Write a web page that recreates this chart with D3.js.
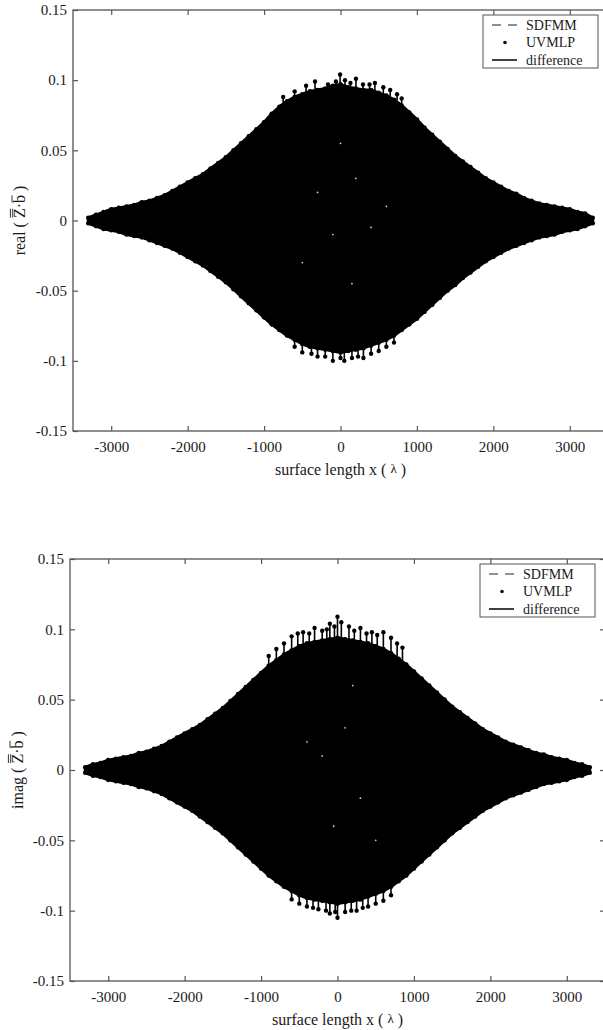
<!DOCTYPE html>
<meta charset="utf-8" />
<script src="https://cdn.jsdelivr.net/npm/d3@7"></script>
<style>
  body { margin: 0; background: #fff; }
  svg text { font-family: "Liberation Serif", "Times New Roman", serif; fill: #1a1a1a; }
</style>
<div id="chart"></div>
<script>
  // sample positions along the surface (lambda)
  const xPos = [-3300, -3200, -3100, -3000, -2900, -2800, -2700, -2600, -2500, -2400, -2300,
    -2200, -2100, -2000, -1900, -1800, -1700, -1600, -1500, -1400, -1300, -1200, -1100,
    -1000, -900, -800, -700, -600, -500, -400, -300, -200, -100, 0, 100, 200, 300, 400,
    500, 600, 700, 800, 900, 1000, 1100, 1200, 1300, 1400, 1500, 1600, 1700, 1800, 1900,
    2000, 2100, 2200, 2300, 2400, 2500, 2600, 2700, 2800, 2900, 3000, 3100, 3200, 3300];

  // envelope of the point cloud, real part
  const realUpper = [0.002, 0.004, 0.006, 0.008, 0.009, 0.010, 0.011, 0.013, 0.014, 0.016, 0.018,
    0.021, 0.024, 0.027, 0.030, 0.033, 0.037, 0.041, 0.045, 0.050, 0.055, 0.060, 0.065,
    0.070, 0.076, 0.081, 0.085, 0.088, 0.090, 0.092, 0.093, 0.094, 0.096, 0.097, 0.095, 0.094, 0.093, 0.093,
    0.091, 0.089, 0.086, 0.082, 0.077, 0.072, 0.066, 0.061, 0.056, 0.051, 0.046, 0.042, 0.038, 0.034, 0.030,
    0.027, 0.024, 0.021, 0.019, 0.016, 0.014, 0.012, 0.011, 0.010, 0.009, 0.008, 0.006, 0.005, 0.002];
  const realLower = [-0.002, -0.004, -0.006, -0.007, -0.008, -0.010, -0.011, -0.012, -0.014, -0.016, -0.018,
    -0.020, -0.023, -0.026, -0.029, -0.032, -0.036, -0.040, -0.044, -0.049, -0.054, -0.059, -0.064,
    -0.069, -0.074, -0.078, -0.082, -0.085, -0.088, -0.090, -0.091, -0.092, -0.093, -0.094, -0.093, -0.092, -0.091, -0.089,
    -0.087, -0.085, -0.082, -0.078, -0.074, -0.070, -0.065, -0.060, -0.055, -0.050, -0.046, -0.041, -0.037, -0.033, -0.029,
    -0.026, -0.023, -0.020, -0.018, -0.016, -0.014, -0.012, -0.011, -0.010, -0.008, -0.007, -0.006, -0.004, -0.002];

  // envelope of the point cloud, imaginary part
  const imagUpper = [0.002, 0.004, 0.005, 0.007, 0.008, 0.009, 0.010, 0.012, 0.013, 0.015, 0.017,
    0.020, 0.023, 0.026, 0.029, 0.032, 0.036, 0.040, 0.044, 0.049, 0.054, 0.059, 0.064,
    0.069, 0.074, 0.078, 0.082, 0.085, 0.088, 0.090, 0.091, 0.092, 0.093, 0.094, 0.093, 0.092, 0.091, 0.090,
    0.088, 0.086, 0.083, 0.079, 0.075, 0.070, 0.065, 0.060, 0.055, 0.050, 0.045, 0.041, 0.037, 0.033, 0.029,
    0.026, 0.023, 0.020, 0.018, 0.016, 0.014, 0.012, 0.011, 0.009, 0.008, 0.007, 0.005, 0.004, 0.002];
  const imagLower = [-0.002, -0.004, -0.005, -0.007, -0.008, -0.009, -0.010, -0.012, -0.013, -0.015, -0.017,
    -0.020, -0.023, -0.026, -0.029, -0.033, -0.037, -0.041, -0.045, -0.050, -0.055, -0.060, -0.065,
    -0.070, -0.075, -0.079, -0.083, -0.086, -0.089, -0.091, -0.092, -0.093, -0.094, -0.095, -0.094, -0.093, -0.092, -0.090,
    -0.088, -0.086, -0.083, -0.079, -0.075, -0.070, -0.065, -0.060, -0.055, -0.050, -0.045, -0.041, -0.037, -0.033, -0.029,
    -0.026, -0.023, -0.020, -0.018, -0.016, -0.014, -0.012, -0.010, -0.009, -0.008, -0.007, -0.005, -0.004, -0.002];

  // isolated points sticking out of the cloud [x, value]
  const realSpikes = [[-750, 0.088], [-600, 0.092], [-450, 0.096], [-333, 0.099], [-163, 0.097], [-60, 0.099],
    [-5, 0.104], [59, 0.1], [130, 0.098], [202, 0.101], [294, 0.097], [380, 0.097], [450, 0.098],
    [560, 0.095], [650, 0.093], [740, 0.09], [800, 0.087],
    [-600, -0.09], [-500, -0.094], [-380, -0.095], [-300, -0.097], [-200, -0.097], [-100, -0.1], [0, -0.098],
    [50, -0.1], [150, -0.098], [230, -0.097], [300, -0.098], [400, -0.095], [500, -0.093], [600, -0.09], [700, -0.087]];
  const imagSpikes = [[-900, 0.081], [-800, 0.086], [-700, 0.09], [-600, 0.095], [-520, 0.097], [-450, 0.098],
    [-370, 0.097], [-300, 0.101], [-200, 0.099], [-140, 0.1], [-100, 0.104], [-40, 0.102], [0, 0.109],
    [50, 0.105], [150, 0.102], [220, 0.099], [300, 0.101], [380, 0.097], [450, 0.098], [520, 0.096],
    [600, 0.098], [700, 0.094], [780, 0.09], [850, 0.087],
    [-600, -0.092], [-500, -0.095], [-400, -0.097], [-320, -0.098], [-250, -0.099], [-150, -0.1], [-100, -0.102],
    [-30, -0.101], [0, -0.105], [100, -0.101], [180, -0.1], [250, -0.1], [330, -0.098], [400, -0.097],
    [500, -0.095], [600, -0.093], [700, -0.089]];

  // small holes inside the cloud
  const realGaps = [[-300, 0.02], [200, 0.03], [-100, -0.01], [400, -0.005], [0, 0.055], [-500, -0.03], [150, -0.045], [600, 0.01]];
  const imagGaps = [[100, 0.03], [-200, 0.01], [300, -0.02], [-50, -0.04], [200, 0.06], [-400, 0.02], [500, -0.05]];

  const xTicks = [-3000, -2000, -1000, 0, 1000, 2000, 3000];
  const yTicks = [-0.15, -0.1, -0.05, 0, 0.05, 0.1, 0.15];
  const legendLabels = ['SDFMM', 'UVMLP', 'difference'];

  const W = 603, H = 1030;
  const svg = d3.select('#chart').append('svg').attr('width', W).attr('height', H);

  const panels = [
    { top: 10, bottom: 431, left: 73, right: 608, upper: realUpper, lower: realLower,
      spikes: realSpikes, gaps: realGaps, name: 'real', labelX: 25 },
    { top: 559, bottom: 981, left: 70, right: 605, upper: imagUpper, lower: imagLower,
      spikes: imagSpikes, gaps: imagGaps, name: 'imag', labelX: 23 },
  ];

  panels.forEach(function (p) {
    const x = d3.scaleLinear().domain([-3500, 3500]).range([p.left, p.right]);
    const y = d3.scaleLinear().domain([-0.15, 0.15]).range([p.bottom, p.top]);
    const g = svg.append('g');

    // point cloud
    const area = d3.area()
      .x((d, i) => x(xPos[i]))
      .y0((d, i) => y(p.lower[i]))
      .y1((d) => y(d));
    g.append('path')
      .datum(p.upper)
      .attr('d', area)
      .attr('fill', '#000')
      .attr('stroke', '#000')
      .attr('stroke-width', 3)
      .attr('stroke-linejoin', 'round');

    const edge = xPos.map((v, i) => [v, p.upper[i]]).concat(xPos.map((v, i) => [v, p.lower[i]]));
    g.selectAll('.edge')
      .data(edge)
      .join('circle')
      .attr('cx', (d) => x(d[0]))
      .attr('cy', (d) => y(d[1]))
      .attr('r', 2.3)
      .attr('fill', '#000');

    g.selectAll('.stem')
      .data(p.spikes)
      .join('line')
      .attr('x1', (d) => x(d[0]))
      .attr('x2', (d) => x(d[0]))
      .attr('y1', y(0))
      .attr('y2', (d) => y(d[1]))
      .attr('stroke', '#000')
      .attr('stroke-width', 1.6);
    g.selectAll('.spike')
      .data(p.spikes)
      .join('circle')
      .attr('cx', (d) => x(d[0]))
      .attr('cy', (d) => y(d[1]))
      .attr('r', 2.2)
      .attr('fill', '#000');

    g.selectAll('.gap')
      .data(p.gaps)
      .join('circle')
      .attr('cx', (d) => x(d[0]))
      .attr('cy', (d) => y(d[1]))
      .attr('r', 0.9)
      .attr('fill', '#ccc');

    // frame
    g.append('rect')
      .attr('x', p.left).attr('y', p.top)
      .attr('width', p.right - p.left).attr('height', p.bottom - p.top)
      .attr('fill', 'none').attr('stroke', '#555').attr('stroke-width', 1.3);

    // axes, ticks pointing inward
    const axes = [
      [d3.axisBottom(x).tickValues(xTicks).tickFormat((d) => String(d)).tickSize(-5).tickPadding(10), `translate(0,${p.bottom})`],
      [d3.axisTop(x).tickValues(xTicks).tickFormat('').tickSize(-5), `translate(0,${p.top})`],
      [d3.axisLeft(y).tickValues(yTicks).tickFormat((d) => String(d)).tickSize(-5).tickPadding(6), `translate(${p.left},0)`],
      [d3.axisRight(y).tickValues(yTicks).tickFormat('').tickSize(-5), `translate(${p.right},0)`],
    ];
    axes.forEach(function (a) {
      const ag = g.append('g').attr('transform', a[1]).call(a[0]);
      ag.select('.domain').remove();
      ag.selectAll('line').attr('stroke', '#555').attr('stroke-width', 1.2);
      ag.selectAll('text').style('font-size', '15px').attr('fill', '#1a1a1a');
    });

    // x title
    const xt = g.append('text')
      .attr('x', x(0))
      .attr('y', p.bottom + 44)
      .attr('text-anchor', 'middle')
      .style('font-size', '16px');
    xt.append('tspan').text('surface length x ( ');
    xt.append('tspan').text('λ').style('font-size', '13px').attr('dy', -2);
    xt.append('tspan').text(' )').attr('dy', 2);

    // y title with overlined Z and b
    const cy = (p.top + p.bottom) / 2;
    const lg = g.append('g').attr('transform', `translate(${p.labelX},${cy}) rotate(-90)`);
    const label = p.name + ' ( Z·b )';
    const yt = lg.append('text')
      .attr('x', 0).attr('y', 0)
      .attr('text-anchor', 'middle')
      .style('font-size', '16px')
      .text(label);
    const node = yt.node();
    const zi = label.indexOf('Z');
    const bi = label.indexOf('b', zi);
    const ez = node.getExtentOfChar(zi);
    const eb = node.getExtentOfChar(bi);
    [[ez, -12.3], [ez, -14.6], [eb, -13]].forEach(function (o) {
      lg.append('line')
        .attr('x1', o[0].x + 0.5).attr('x2', o[0].x + o[0].width - 0.5)
        .attr('y1', o[1]).attr('y2', o[1])
        .attr('stroke', '#1a1a1a').attr('stroke-width', 0.9);
    });

    // legend
    const bx = p.right - 125, by = p.top + 5;
    const leg = g.append('g').attr('transform', `translate(${bx},${by})`);
    leg.append('rect')
      .attr('width', 115).attr('height', 53)
      .attr('fill', '#fff').attr('stroke', '#555').attr('stroke-width', 1);
    const rows = d3.scalePoint().domain(legendLabels).range([10, 45]);
    leg.append('line')
      .attr('x1', 9).attr('x2', 34).attr('y1', rows('SDFMM')).attr('y2', rows('SDFMM'))
      .attr('stroke', '#222').attr('stroke-width', 1.2).attr('stroke-dasharray', '9,7');
    leg.append('circle')
      .attr('cx', 22).attr('cy', rows('UVMLP')).attr('r', 1.8).attr('fill', '#111');
    leg.append('line')
      .attr('x1', 9).attr('x2', 34).attr('y1', rows('difference')).attr('y2', rows('difference'))
      .attr('stroke', '#111').attr('stroke-width', 1.6);
    leg.selectAll('.lt')
      .data(legendLabels)
      .join('text')
      .attr('x', 43)
      .attr('y', (d) => rows(d))
      .attr('dy', '0.33em')
      .style('font-size', '14px')
      .text((d) => d);
  });
</script>
